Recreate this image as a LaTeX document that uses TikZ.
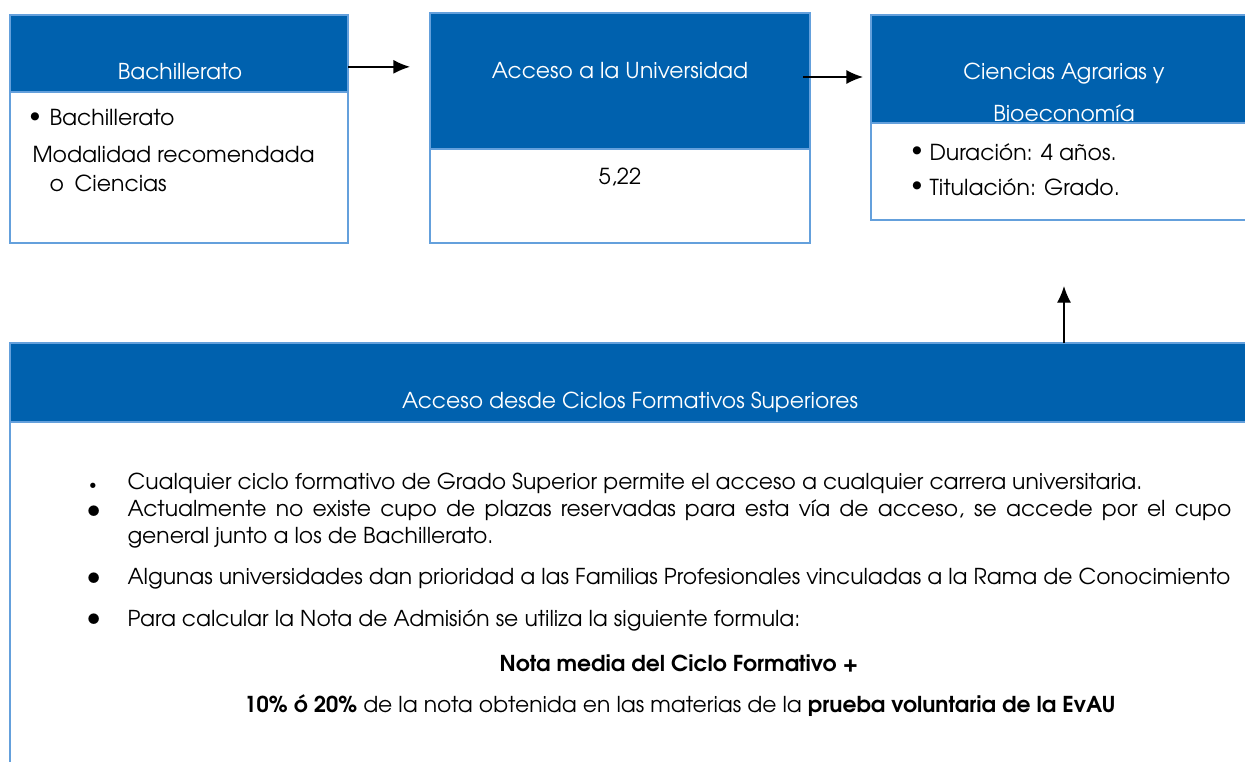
\documentclass[tikz,border=0pt]{standalone}
\usepackage{fontspec}
\setmainfont{TeX Gyre Adventor}
\usetikzlibrary{arrows.meta}
\definecolor{hdrblue}{RGB}{0,97,174}
\definecolor{edgeblue}{RGB}{100,160,220}
\tikzset{every picture/.style={line width=0.75pt}}
\tikzset{
  headbox/.style={draw=edgeblue, fill=hdrblue, line width=1pt, anchor=north west, inner sep=0pt, outer sep=0pt},
  bodybox/.style={draw=edgeblue, fill=white, line width=1pt, anchor=north west, inner sep=0pt, outer sep=0pt},
  headtext/.style={text=white, font=\fontsize{16.4}{19}\selectfont, inner sep=0.75pt},
  bodytext/.style={text=black, font=\fontsize{16.5}{19}\selectfont, inner sep=0.75pt, anchor=west},
  listtext/.style={text=black, font=\fontsize{16.4}{19}\selectfont, inner sep=0.75pt, anchor=west},
  dot/.style={text=black, font=\fontsize{22}{24}\selectfont, inner sep=0pt},
  conn/.style={-{Latex[length=12.5pt,width=10.5pt]}, line width=1pt}
}

\begin{document}
\begin{tikzpicture}[x=0.75pt,y=0.75pt,yscale=-1,xscale=1]
    \clip (0,0) rectangle (1245,761); %set diagram size 1245 x 761
    % Text Node
    \node[bodybox, minimum width=253.5pt, minimum height=113.25pt] (bachBody) at (10,92) {};
    \node[headbox, minimum width=253.5pt, minimum height=57.75pt] (bachHead) at (10,15) {};
    \node[headtext] (bachTitle) at (180,72) {Bachillerato};
    \node[dot, font=\fontsize{17}{19}\selectfont] (bachDot) at (35,118) {\textbullet};
    \node[bodytext] (bachItem) at (48,118) {Bachillerato};
    \node[bodytext] (bachMod) at (31,155) {Modalidad recomendada};
    \node[bodytext] (bachCien) at (48,183) {o\hspace{8pt}Ciencias};
    % Text Node
    \node[bodybox, minimum width=285pt, minimum height=70.5pt] (uniBody) at (430,149) {};
    \node[headbox, minimum width=285pt, minimum height=102pt] (uniHead) at (430,13) {};
    \node[headtext] (uniTitle) at (620,71) {Acceso a la Universidad};
    \node[bodytext, anchor=center] (uniNota) at (620,177) {5,22};
    % Text Node
    \node[bodybox, minimum width=289.5pt, minimum height=72.75pt] (agrBody) at (871,123) {};
    \node[headbox, minimum width=289.5pt, minimum height=81pt] (agrHead) at (871,15) {};
    \node[headtext] (agrTitle) at (1064,74) {Ciencias Agrarias y};
    \begin{scope}
      \clip (871,15) rectangle (1257,123);
      \node[headtext] (agrTitleB) at (1064,113) {Bioeconomía};
    \end{scope}
    \node[dot, font=\fontsize{17}{19}\selectfont] (agrDotA) at (917,152) {\textbullet};
    \node[bodytext] (agrDur) at (928,152) {Duración: 4 años.};
    \node[dot, font=\fontsize{17}{19}\selectfont] (agrDotB) at (917,187) {\textbullet};
    \node[bodytext] (agrTit) at (928,187) {Titulación: Grado.};
    % Text Node
    \node[bodybox, minimum width=935.25pt, minimum height=270pt] (cicBody) at (10,422) {};
    \node[headbox, minimum width=935.25pt, minimum height=59.25pt] (cicHead) at (10,343) {};
    \node[headtext] (cicTitle) at (630,402) {Acceso desde Ciclos Formativos Superiores};
    \node[dot, font=\fontsize{11}{12}\selectfont] (dotA) at (93,486) {\textbullet};
    \node[listtext] (itemA) at (126,483) {Cualquier ciclo formativo de Grado Superior permite el acceso a cualquier carrera universitaria.};
    \node[dot] (dotB) at (94,512) {\textbullet};
    \node[listtext] (itemB) at (126,510) {\makebox[828pt][s]{Actualmente no existe cupo de plazas reservadas para esta vía de acceso, se accede por el cupo}};
    \node[listtext] (itemBb) at (126,538) {general junto a los de Bachillerato.};
    \node[dot] (dotC) at (94,579) {\textbullet};
    \node[listtext] (itemC) at (126,579) {Algunas universidades dan prioridad a las Familias Profesionales vinculadas a la Rama de Conocimiento};
    \node[dot] (dotD) at (94,620) {\textbullet};
    \node[listtext] (itemD) at (126,620) {Para calcular la Nota de Admisión se utiliza la siguiente formula:};
    \node[listtext, anchor=center] (formA) at (679,663) {\textbf{Nota media del Ciclo Formativo +}};
    \node[listtext, anchor=center] (formB) at (680,706) {\textbf{10\% ó 20\%} de la nota obtenida en las materias de la \textbf{prueba voluntaria de la EvAU}};
    % Connection
    \draw[conn] ([yshift=10pt]bachHead.east) -- ++(62,0);
    % Connection
    \draw[conn] ([xshift=-5.25pt,yshift=-3pt]uniHead.east) -- ++(60,0);
    % Connection
    \draw[conn] (cicHead.north -| agrBody.south) -- ++(0,-57);
\end{tikzpicture}
\end{document}
